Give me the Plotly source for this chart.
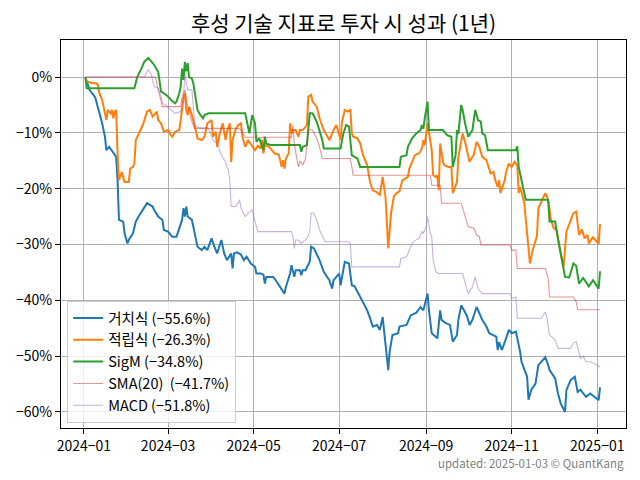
import plotly.graph_objects as go

FONT = "Noto Sans CJK KR"

title_text = "후성 기술 지표로 투자 시 성과 (1년)"
footer_text = "updated: 2025-01-03 © QuantKang"

series_names = ["거치식", "적립식", "SigM", "SMA(20) ", "MACD"]
final_returns = [-55.6, -26.3, -34.8, -41.7, -51.8]

# 거치식 (buy & hold)
hold_dates = ["2024-01-02","2024-01-05","2024-01-09","2024-01-11","2024-01-14","2024-01-16","2024-01-17","2024-01-19","2024-01-22","2024-01-24",
              "2024-01-25","2024-01-26","2024-01-29","2024-01-30","2024-02-01","2024-02-02","2024-02-05","2024-02-07","2024-02-09","2024-02-13",
              "2024-02-15","2024-02-19","2024-02-20","2024-02-23","2024-02-26","2024-02-27","2024-03-01","2024-03-04","2024-03-07","2024-03-11",
              "2024-03-12","2024-03-13","2024-03-14","2024-03-15","2024-03-18","2024-03-20","2024-03-22","2024-03-25","2024-03-27","2024-03-29",
              "2024-04-01","2024-04-03","2024-04-05","2024-04-08","2024-04-10","2024-04-12","2024-04-15","2024-04-16","2024-04-17","2024-04-19",
              "2024-04-22","2024-04-24","2024-04-26","2024-04-29","2024-05-02","2024-05-03","2024-05-06","2024-05-08","2024-05-09","2024-05-10",
              "2024-05-15","2024-05-17","2024-05-20","2024-05-22","2024-05-23","2024-05-24","2024-05-27","2024-05-28","2024-05-29","2024-05-30",
              "2024-05-31","2024-06-03","2024-06-04","2024-06-05","2024-06-07","2024-06-10","2024-06-11","2024-06-13","2024-06-17","2024-06-20",
              "2024-06-24","2024-06-26","2024-06-27","2024-07-01","2024-07-02","2024-07-04","2024-07-05","2024-07-08","2024-07-10","2024-07-12",
              "2024-07-16","2024-07-18","2024-07-21","2024-07-23","2024-07-25","2024-07-28","2024-07-30","2024-08-01","2024-08-02","2024-08-05",
              "2024-08-06","2024-08-08","2024-08-12","2024-08-13","2024-08-18","2024-08-21","2024-08-25","2024-08-28","2024-08-30","2024-09-02",
              "2024-09-03","2024-09-05","2024-09-09","2024-09-11","2024-09-12","2024-09-15","2024-09-18","2024-09-20","2024-09-23","2024-09-24",
              "2024-09-26","2024-09-30","2024-10-02","2024-10-04","2024-10-07","2024-10-10","2024-10-11","2024-10-14","2024-10-16","2024-10-21",
              "2024-10-22","2024-10-23","2024-10-25","2024-10-28","2024-10-30","2024-11-01","2024-11-04","2024-11-07","2024-11-08","2024-11-12",
              "2024-11-13","2024-11-15","2024-11-18","2024-11-20","2024-11-25","2024-11-27","2024-11-28","2024-12-02","2024-12-04","2024-12-06",
              "2024-12-09","2024-12-10","2024-12-13","2024-12-16","2024-12-18","2024-12-20","2024-12-24","2024-12-27","2025-01-02","2025-01-03"]
hold_vals = [0,-2.3,-3.6,-5.3,-8.3,-10.7,-13.1,-12.5,-13.6,-14.3,
             -18.5,-25.6,-25.9,-28,-29.8,-29.2,-28,-25.9,-25,-23.5,
             -22.6,-23.2,-23.8,-25,-25.6,-27.4,-27.7,-28.6,-28.6,-25.6,
             -23.5,-25,-23.2,-25,-25.6,-28,-30.4,-31,-30.4,-31,
             -28.9,-30.4,-31.6,-29.2,-31.6,-32.8,-31.6,-34.3,-31.6,-31.4,
             -31.8,-32.8,-32.2,-33.4,-34,-35.2,-35.2,-35.4,-37,-35.8,
             -35.8,-36.5,-37.6,-38.2,-38.8,-37.6,-35.2,-33.7,-35,-35.8,
             -34.6,-34.6,-35.5,-34.6,-34.6,-33.1,-30.4,-30.7,-32.8,-34.9,
             -36.4,-37.9,-36.4,-35.2,-37.3,-34,-33.1,-33.4,-37.3,-37.5,
             -39.4,-40.3,-41.8,-43.2,-44.7,-44.4,-45.3,-43,-45.6,-52.5,
             -49.2,-46.2,-45.9,-44.7,-44.4,-42.7,-42.2,-41.2,-41.8,-38.8,
             -41.8,-45.9,-46.8,-41.8,-43.5,-44.1,-44.4,-47.4,-46.2,-43.5,
             -40.9,-42.7,-44.4,-43.5,-41.2,-43,-43.5,-44.7,-45.9,-46.5,
             -48.9,-47.5,-48.9,-46.8,-45.3,-45.9,-45.6,-49.2,-51,-53.7,
             -57.8,-56,-54.9,-51.6,-50.2,-51.6,-52.5,-54,-56.7,-58.5,
             -60,-56.1,-54.3,-53.7,-56.4,-56,-57.3,-56.7,-57.9,-55.6]

# 적립식 (regular installments)
dca_dates = ["2024-01-02","2024-01-03","2024-01-07","2024-01-10","2024-01-11","2024-01-12","2024-01-14","2024-01-15","2024-01-16","2024-01-17",
             "2024-01-18","2024-01-20","2024-01-21","2024-01-22","2024-01-23","2024-01-24","2024-01-25","2024-01-26","2024-01-28","2024-01-30",
             "2024-02-02","2024-02-03","2024-02-05","2024-02-06","2024-02-07","2024-02-10","2024-02-12","2024-02-15","2024-02-17","2024-02-19",
             "2024-02-22","2024-02-23","2024-02-25","2024-02-27","2024-03-01","2024-03-03","2024-03-04","2024-03-06","2024-03-09","2024-03-10",
             "2024-03-11","2024-03-12","2024-03-13","2024-03-14","2024-03-15","2024-03-16","2024-03-18","2024-03-19","2024-03-21","2024-03-22",
             "2024-03-25","2024-03-27","2024-03-29","2024-04-01","2024-04-02","2024-04-04","2024-04-05","2024-04-07","2024-04-09","2024-04-11",
             "2024-04-12","2024-04-14","2024-04-15","2024-04-16","2024-04-18","2024-04-20","2024-04-22","2024-04-23","2024-04-25","2024-04-27",
             "2024-05-02","2024-05-04","2024-05-06","2024-05-07","2024-05-08","2024-05-09","2024-05-12","2024-05-14","2024-05-16","2024-05-19",
             "2024-05-21","2024-05-22","2024-05-23","2024-05-24","2024-05-26","2024-05-27","2024-05-28","2024-05-29","2024-05-31","2024-06-02",
             "2024-06-03","2024-06-05","2024-06-08","2024-06-09","2024-06-11","2024-06-12","2024-06-15","2024-06-17","2024-06-20","2024-06-22",
             "2024-06-24","2024-06-27","2024-06-29","2024-07-02","2024-07-03","2024-07-05","2024-07-07","2024-07-09","2024-07-10","2024-07-11",
             "2024-07-14","2024-07-16","2024-07-18","2024-07-21","2024-07-23","2024-07-25","2024-07-27","2024-07-30","2024-08-01","2024-08-03",
             "2024-08-05","2024-08-07","2024-08-09","2024-08-11","2024-08-13","2024-08-15","2024-08-19","2024-08-20","2024-08-22","2024-08-24",
             "2024-08-27","2024-08-29","2024-08-30","2024-08-31","2024-09-02","2024-09-04","2024-09-05","2024-09-06","2024-09-08","2024-09-09",
             "2024-09-10","2024-09-11","2024-09-13","2024-09-14","2024-09-17","2024-09-19","2024-09-20","2024-09-22","2024-09-23","2024-09-24",
             "2024-09-27","2024-09-29","2024-10-02","2024-10-05","2024-10-07","2024-10-09","2024-10-11","2024-10-14","2024-10-16","2024-10-17",
             "2024-10-19","2024-10-20","2024-10-22","2024-10-23","2024-10-24","2024-10-27","2024-10-28","2024-10-30","2024-11-01","2024-11-02",
             "2024-11-03","2024-11-05","2024-11-06","2024-11-07","2024-11-10","2024-11-12","2024-11-14","2024-11-16","2024-11-19","2024-11-20",
             "2024-11-23","2024-11-25","2024-11-27","2024-11-29","2024-12-01","2024-12-03","2024-12-05","2024-12-08","2024-12-10","2024-12-13",
             "2024-12-15","2024-12-17","2024-12-19","2024-12-21","2024-12-23","2024-12-25","2024-12-26","2024-12-29","2025-01-02","2025-01-03"]
dca_vals = [0,-0.8,-1.1,-1.1,-1.5,-2.9,-4.1,-5.3,-6.2,-7.7,
            -5.9,-6.5,-5.9,-7.4,-6.2,-5.9,-13.7,-18.5,-17,-18.8,
            -18.8,-16.4,-16.1,-15.5,-11.3,-9.8,-8.6,-6.2,-5.9,-7.1,
            -6.2,-7.7,-8.3,-9.8,-9.5,-10.4,-10.7,-9.8,-9.5,-7.7,
            -5.5,-3.8,-2.9,-5.9,-6.8,-5.3,-6.8,-7.7,-9.8,-11,
            -11.3,-10.7,-8.3,-7.7,-10.7,-9.8,-12.5,-10,-8.3,-11.3,
            -9.8,-8.3,-15.2,-11.3,-9.5,-8.6,-8.3,-10.7,-12.5,-11.3,
            -13.1,-12.3,-12.8,-11.3,-13.7,-12.2,-12.5,-13.1,-13.7,-13.9,
            -16.1,-14.9,-16.4,-14.6,-13.7,-8.3,-10.1,-9.5,-9.5,-10.7,
            -9.5,-9.5,-8.6,-3.5,-3.2,-4.4,-5.3,-7.4,-9.5,-10.4,
            -11.3,-9.5,-8.6,-11.3,-8,-5.9,-6.2,-5.9,-10.1,-10.7,
            -11,-11.9,-14,-15.8,-18.8,-20.3,-20.5,-21.1,-17.9,-21.4,
            -30.7,-24.4,-21.4,-20.8,-20.5,-18.5,-17.9,-16.4,-15.2,-14,
            -13.7,-12.8,-11.3,-12.2,-8.3,-11.3,-13.1,-17.6,-17.9,-17.6,
            -20.3,-11.9,-15.2,-15.8,-16.1,-16.1,-20.8,-19.5,-18.8,-14.3,
            -10.1,-11.9,-15.2,-13.9,-11.6,-12.5,-14.3,-14.9,-16.7,-17.3,
            -17,-18.2,-19.7,-18.5,-20.8,-18.5,-17,-15.5,-16.1,-15.5,
            -15.2,-15.8,-20.8,-19.7,-22.6,-28,-33.4,-31,-28.5,-23.5,
            -22,-20.8,-22,-25.6,-27.1,-27.4,-30.5,-34,-27.7,-25.6,
            -24.4,-24.1,-28.3,-27.3,-28.9,-28.3,-29.8,-28.7,-29.9,-26.3]

# SigM
sigm_dates = ["2024-01-02","2024-01-03","2024-02-06","2024-02-08","2024-02-11","2024-02-13","2024-02-16","2024-02-18","2024-02-20","2024-02-23",
              "2024-02-24","2024-02-25","2024-02-27","2024-03-01","2024-03-03","2024-03-06","2024-03-07","2024-03-09","2024-03-10","2024-03-11",
              "2024-03-12","2024-03-13","2024-03-14","2024-03-15","2024-03-16","2024-03-18","2024-03-19","2024-03-22","2024-03-24","2024-03-26",
              "2024-03-27","2024-03-30","2024-04-25","2024-04-26","2024-04-28","2024-04-30","2024-05-02","2024-05-03","2024-05-05","2024-05-08",
              "2024-05-09","2024-05-10","2024-05-13","2024-06-03","2024-06-04","2024-06-05","2024-06-08","2024-06-10","2024-06-12","2024-06-15",
              "2024-06-17","2024-06-19","2024-06-20","2024-07-02","2024-07-04","2024-07-06","2024-07-08","2024-07-10","2024-07-12","2024-07-14",
              "2024-07-16","2024-08-13","2024-08-14","2024-08-18","2024-08-19","2024-08-22","2024-08-25","2024-08-28","2024-08-29","2024-08-30",
              "2024-08-31","2024-09-02","2024-09-03","2024-09-13","2024-09-16","2024-09-19","2024-09-20","2024-09-22","2024-09-23","2024-09-24",
              "2024-09-26","2024-09-27","2024-09-29","2024-10-01","2024-10-04","2024-10-06","2024-10-08","2024-10-10","2024-10-11","2024-10-13",
              "2024-10-15","2024-11-04","2024-11-05","2024-11-06","2024-11-08","2024-11-11","2024-11-27","2024-11-28","2024-12-02","2024-12-03",
              "2024-12-09","2024-12-12","2024-12-15","2024-12-17","2024-12-19","2024-12-22","2024-12-26","2024-12-29","2025-01-02","2025-01-03"]
sigm_vals = [0,-2,-2,0,1.5,2.7,3.4,2.7,2.2,0.9,
             -0.5,-2.6,-2.9,-3.5,-4.1,-4.7,-4.4,-2.9,-1.7,1.5,
             -0.5,2.7,1.0,2.5,0,-0.3,-1.1,-5.9,-6.8,-7.4,
             -6.8,-6.5,-6.5,-7.7,-10.1,-6.8,-8.3,-11.6,-11,-13.1,
             -10.7,-11.9,-12.2,-12.2,-13.4,-12.5,-12.2,-6.5,-6.5,-8,
             -9.5,-11.3,-12.8,-12.8,-10.1,-8.6,-8.9,-14,-14.3,-14.6,
             -16.1,-16.1,-14.3,-14,-12.5,-11,-10.1,-9.5,-8.6,-9.3,
             -7.4,-4.4,-9.5,-9.5,-10.4,-10.7,-16.1,-14,-9.5,-10.2,
             -5,-5.9,-8.6,-10.7,-9.5,-5.9,-7.7,-8,-10.1,-10.4,
             -13.1,-13.1,-12.4,-16.1,-18.5,-22,-22,-25.9,-25.9,-27.5,
             -35.8,-35.9,-33.4,-33.8,-37,-36,-37.5,-36.4,-37.9,-34.8]

# SMA(20)
sma_dates = ["2024-01-02","2024-02-21","2024-02-23","2024-02-26","2024-03-10","2024-03-11","2024-03-13","2024-03-14","2024-03-15","2024-03-18",
             "2024-03-20","2024-04-20","2024-04-22","2024-04-25","2024-05-28","2024-05-29","2024-05-30","2024-06-01","2024-06-02","2024-06-03",
             "2024-06-05","2024-06-07","2024-06-09","2024-06-12","2024-06-15","2024-06-17","2024-06-19","2024-07-09","2024-07-10","2024-07-11",
             "2024-09-04","2024-09-05","2024-09-11","2024-09-12","2024-09-26","2024-09-28","2024-10-01","2024-10-05","2024-10-07","2024-10-09",
             "2024-10-10","2024-10-31","2024-11-01","2024-11-04","2024-11-05","2024-11-25","2024-11-27","2024-11-28","2024-12-15","2024-12-17",
             "2024-12-18","2025-01-03"]
sma_vals = [0,0,-2.3,-5.3,-5.3,-3.5,-2.3,-3.5,-5.3,-8,
            -9.2,-9.2,-9.5,-10.8,-10.8,-8.6,-12,-14.9,-16.1,-15,
            -15.8,-14.6,-9.5,-9.5,-11,-12.5,-14.6,-14.6,-15.8,-17.6,
            -17.6,-19.4,-19.4,-22.6,-22.6,-24.4,-26.8,-27.1,-28.3,-28.6,
            -30.1,-30.1,-31,-31,-34.3,-34.3,-36,-39.4,-39.4,-40.3,
            -41.7,-41.7]

# MACD
macd_dates = ["2024-01-02","2024-02-13","2024-02-15","2024-02-16","2024-02-18","2024-02-20","2024-02-23","2024-02-25","2024-02-26","2024-02-28",
              "2024-03-03","2024-03-06","2024-03-10","2024-03-11","2024-03-12","2024-03-13","2024-03-14","2024-03-15","2024-03-18","2024-03-20",
              "2024-03-21","2024-03-26","2024-03-29","2024-03-31","2024-04-02","2024-04-05","2024-04-08","2024-04-11","2024-04-13","2024-04-14",
              "2024-04-15","2024-04-18","2024-04-20","2024-04-21","2024-04-22","2024-04-25","2024-04-27","2024-04-30","2024-05-02","2024-05-04",
              "2024-05-28","2024-05-29","2024-05-30","2024-05-31","2024-06-02","2024-06-04","2024-06-08","2024-06-10","2024-06-11","2024-06-13",
              "2024-06-15","2024-06-17","2024-06-21","2024-07-08","2024-07-09","2024-07-10","2024-08-13","2024-08-14","2024-08-18","2024-08-20",
              "2024-08-22","2024-08-24","2024-08-27","2024-08-29","2024-08-30","2024-09-01","2024-09-02","2024-09-04","2024-09-05","2024-09-06",
              "2024-09-08","2024-09-10","2024-09-27","2024-09-29","2024-10-01","2024-10-04","2024-10-06","2024-10-08","2024-10-11","2024-10-31",
              "2024-11-01","2024-11-03","2024-11-04","2024-11-05","2024-11-22","2024-11-25","2024-11-26","2024-11-27","2024-11-28","2024-12-02",
              "2024-12-04","2024-12-13","2024-12-15","2024-12-17","2024-12-19","2024-12-20","2024-12-22","2024-12-24","2024-12-27","2024-12-30",
              "2025-01-02","2025-01-03"]
macd_vals = [0,0,1.0,1.3,0.5,-1.7,-2.0,-3.5,-4.7,-5.0,
             -5.9,-6.5,-6.2,-5.3,-3.5,0.4,-0.9,-2.3,-2.3,-8.3,
             -8.9,-9.2,-9.0,-9.8,-11.3,-11.9,-14,-15.2,-16.7,-18.5,
             -23.2,-23.2,-22.6,-22,-23.5,-25,-24.4,-23.8,-25.9,-27.7,
             -27.7,-28.6,-30.7,-29.2,-29.2,-29.8,-28.9,-27.7,-24.4,-24.4,
             -25.6,-27.4,-29.5,-29.5,-29.8,-34,-34,-32.5,-32.2,-31,
             -29.8,-29.3,-28.9,-27.7,-28,-26.8,-25,-28,-28.6,-32.8,
             -34.9,-35.2,-35.2,-37,-38.8,-37.6,-35.8,-37.9,-38.8,-38.8,
             -39.7,-39.5,-39.4,-43.2,-43.2,-42.1,-43,-44.7,-46.2,-47.1,
             -48.6,-48.6,-47.7,-47.4,-49.8,-50.4,-50,-51,-51,-51.3,
             -51.9,-51.8]

x_tick_vals = ["2024-01-01","2024-03-01","2024-05-01","2024-07-01","2024-09-01","2024-11-01","2025-01-01"]
x_tick_text = ["2024−01","2024−03","2024−05","2024−07","2024−09","2024−11","2025−01"]
y_tick_vals = [0, -10, -20, -30, -40, -50, -60]
y_tick_text = ["0%", "−10%", "−20%", "−30%", "−40%", "−50%", "−60%"]

series = [
    (hold_dates, hold_vals, "#1f77b4", 2.0),
    (dca_dates, dca_vals, "#ff7f0e", 2.0),
    (sigm_dates, sigm_vals, "#2ca02c", 2.0),
    (sma_dates, sma_vals, "rgba(214,39,40,0.5)", 1.1),
    (macd_dates, macd_vals, "rgba(148,103,189,0.5)", 1.1),
]

fig = go.Figure()
for (d, v, c, w), name, r in zip(series, series_names, final_returns):
    label = f"{name} ({r:.1f}%)".replace("-", "−")
    fig.add_trace(go.Scatter(x=d, y=v, mode="lines", name=label,
                             line=dict(color=c, width=w)))

# The page body adds an 8px offset, so the figure is 632x472 to fill the 640x480 window.
fig.update_layout(
    width=632, height=472,
    margin=dict(l=53, r=14, t=32, b=52, autoexpand=False),
    paper_bgcolor="white", plot_bgcolor="white",
    font=dict(family=FONT, size=14, color="black"),
    title=dict(text=title_text, xref="paper", x=0.5, xanchor="center",
               yref="container", y=0.966, yanchor="middle",
               font=dict(family=FONT, size=21, color="black")),
    showlegend=True,
    legend=dict(x=0.011, y=0.013, xanchor="left", yanchor="bottom",
                bgcolor="rgba(255,255,255,0.8)", bordercolor="#cccccc", borderwidth=1,
                font=dict(family=FONT, size=14.5), itemwidth=30, tracegroupgap=0),
    annotations=[dict(text=footer_text, xref="paper", yref="paper", x=1.0, y=-0.09,
                      xanchor="right", yanchor="middle", showarrow=False,
                      font=dict(family=FONT, size=11.5, color="gray"))],
)
fig.update_xaxes(type="date", range=["2023-12-15 16:00", "2025-01-21 12:00"], automargin=False,
                 tickmode="array", tickvals=x_tick_vals, ticktext=x_tick_text,
                 showgrid=True, gridcolor="#b0b0b0", gridwidth=1,
                 showline=True, linecolor="black", linewidth=1, mirror=True,
                 ticks="outside", ticklen=5, tickcolor="black",
                 tickfont=dict(family=FONT, size=14), zeroline=False)
fig.update_yaxes(range=[-62.87, 6.63], automargin=False, tickmode="array", tickvals=y_tick_vals, ticktext=y_tick_text,
                 showgrid=True, gridcolor="#b0b0b0", gridwidth=1,
                 showline=True, linecolor="black", linewidth=1, mirror=True,
                 ticks="outside", ticklen=5, tickcolor="black",
                 tickfont=dict(family=FONT, size=14), zeroline=False)

fig.write_html("out.html")
